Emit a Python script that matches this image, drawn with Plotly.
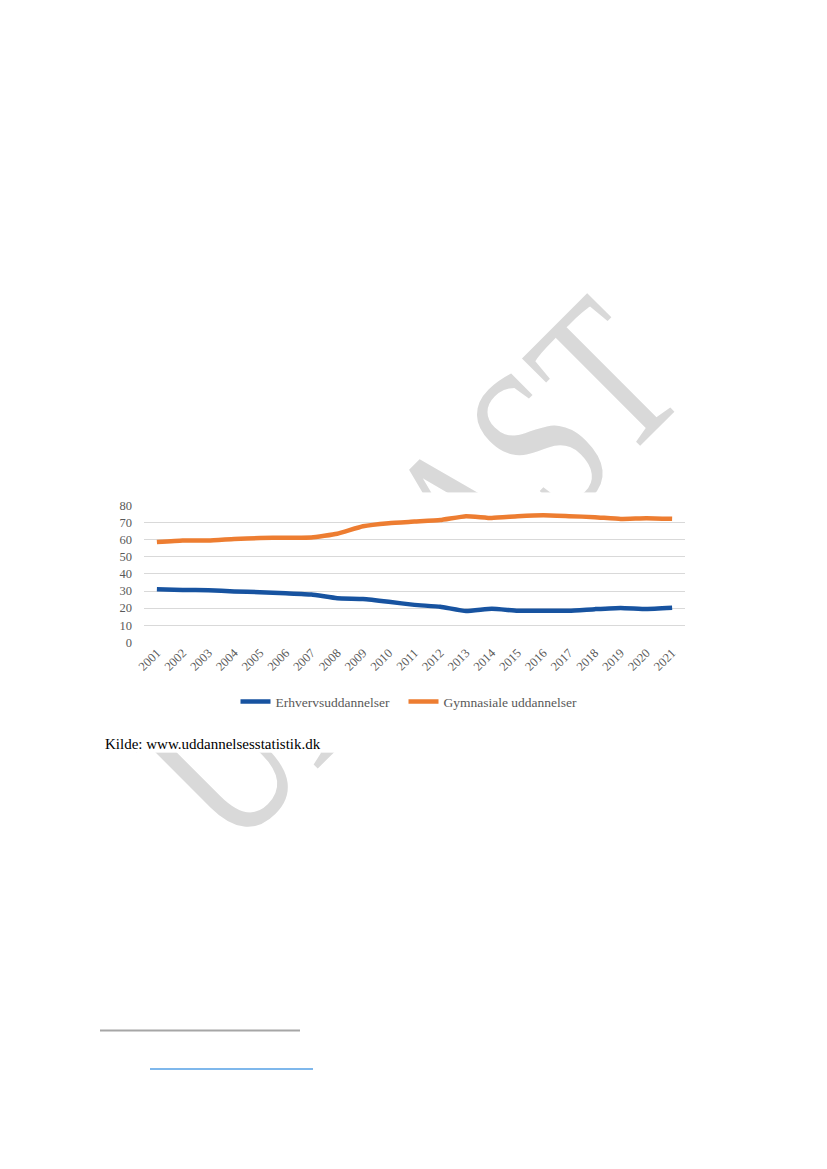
import base64
import plotly.graph_objects as go

# ---- data ----
years = [str(y) for y in range(2001, 2022)]
erhverv = [31.1, 30.6, 30.5, 29.8, 29.3, 28.7, 28.0, 25.8, 25.3, 23.7, 21.9,
           20.8, 18.3, 19.6, 18.5, 18.5, 18.5, 19.4, 20.1, 19.5, 20.2]
gymnasial = [58.7, 59.6, 59.6, 60.5, 61.1, 61.3, 61.4, 63.6, 68.0, 69.8, 70.7,
             71.6, 73.9, 72.8, 73.8, 74.4, 73.9, 73.3, 72.2, 72.7, 72.3]
series_names = ["Erhvervsuddannelser", "Gymnasiale uddannelser"]
series_colors = ["#1753a0", "#ed7d31"]
y_ticks = [0, 10, 20, 30, 40, 50, 60, 70, 80]
source_text = "Kilde: www.uddannelsesstatistik.dk"
watermark_text = "UDKAST"

# figure size; the html body keeps its default margin
FW, FH = 811, 1153
# where the figure's paper lands in the photographed page (measured)
SX0, SX1, SY0, SY1 = 16, 819, 15, 1153


def fx(px):
    return (px - SX0) / (SX1 - SX0)


def fy(py):
    return 1 - (py - SY0) / (SY1 - SY0)


svg = f'''<svg xmlns="http://www.w3.org/2000/svg" width="{FW}" height="{FH}"
 viewBox="{SX0} {SY0} {SX1 - SX0} {SY1 - SY0}" preserveAspectRatio="none">
<text x="0" y="0" text-anchor="middle" font-family="Liberation Serif, Times New Roman, serif"
 font-size="222" fill="#d9d9d9" textLength="649" lengthAdjust="spacingAndGlyphs"
 transform="translate(462.3,623.3) rotate(-45)">{watermark_text}</text>
<rect x="0" y="492" width="900" height="260" fill="#ffffff"/>
</svg>'''
svg_uri = "data:image/svg+xml;base64," + base64.b64encode(svg.encode("utf-8")).decode("ascii")

serif = "Liberation Serif, Times New Roman, serif"

fig = go.Figure()
legend_names = ["legend", "legend2"]
for name, vals, col, lg in zip(series_names, [erhverv, gymnasial], series_colors, legend_names):
    fig.add_trace(go.Scatter(
        x=years, y=vals, name=name, mode="lines",
        line=dict(color=col, width=4.5, shape="spline", smoothing=0.4),
        hoverinfo="skip", legend=lg,
    ))

legend_common = dict(
    orientation="h", yanchor="middle", y=fy(701), xanchor="left",
    font=dict(family=serif, size=13.5, color="#595959"),
    bgcolor="rgba(0,0,0,0)", itemwidth=30,
)

fig.update_layout(
    width=FW, height=FH,
    margin=dict(l=0, r=0, t=0, b=0),
    paper_bgcolor="#ffffff",
    plot_bgcolor="rgba(0,0,0,0)",
    showlegend=True,
    legend=dict(x=fx(235.5), **legend_common),
    legend2=dict(x=fx(403.5), **legend_common),
    xaxis=dict(
        domain=[fx(144), fx(685)], type="category", range=[-0.5, len(years) - 0.5],
        tickangle=-45, showgrid=False, showline=False, zeroline=False, ticks="",
        tickfont=dict(family=serif, size=12.5, color="#595959"), fixedrange=True,
    ),
    yaxis=dict(
        domain=[fy(641.7), fy(505.3)], range=[0, 80], tickvals=y_ticks,
        ticktext=[str(v) for v in y_ticks], showgrid=True, gridcolor="#d9d9d9",
        gridwidth=1, zeroline=False, showline=False, ticks="", ticklabelstandoff=11,
        tickfont=dict(family=serif, size=12.5, color="#595959"), fixedrange=True,
    ),
    images=[dict(
        source=svg_uri, xref="paper", yref="paper", x=0, y=1, sizex=1, sizey=1,
        xanchor="left", yanchor="top", sizing="stretch", layer="below",
    )],
    annotations=[dict(
        text=source_text, xref="paper", yref="paper", x=fx(103), y=fy(743),
        xanchor="left", yanchor="middle", showarrow=False,
        font=dict(family=serif, size=15, color="#000000"),
    )],
    shapes=[
        dict(type="line", xref="paper", yref="paper", x0=fx(100), x1=fx(300),
             y0=fy(1029.5), y1=fy(1029.5), line=dict(color="#a6a6a6", width=2)),
        dict(type="line", xref="paper", yref="paper", x0=fx(150), x1=fx(313),
             y0=fy(1068), y1=fy(1068), line=dict(color="#55a0e6", width=1.5)),
    ],
)

fig.write_html("out.html", config={"displayModeBar": False})
